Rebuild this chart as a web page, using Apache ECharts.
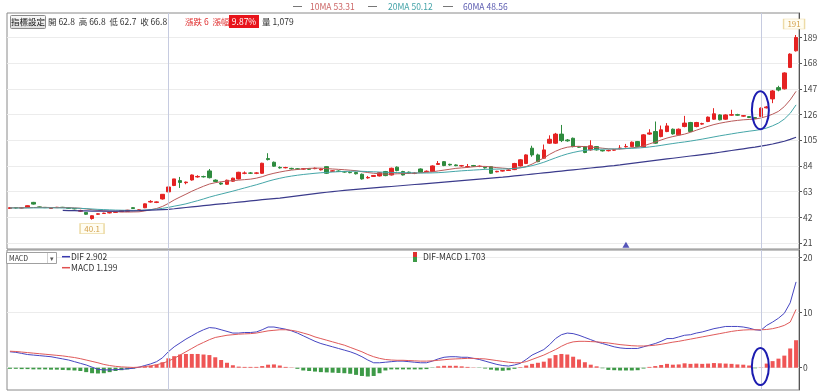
<!DOCTYPE html>
<html><head><meta charset="utf-8">
<script src="https://cdn.jsdelivr.net/npm/echarts@6/dist/echarts.min.js"></script>
<style>html,body{margin:0;padding:0;background:#fff}#c{width:820px;height:392px}</style>
</head><body><div id="c"></div>
<script>
const opens = [49.2,50.0,49.6,50.2,54.2,50.5,50.1,49.3,49.9,50.2,
49.6,49.2,47.0,46.0,41.0,44.5,45.1,45.6,46.0,46.6,
46.9,49.9,47.8,49.8,54.5,54.2,57.0,62.8,68.0,72.0,
70.3,72.5,75.0,75.3,79.9,72.4,70.0,69.0,71.5,73.4,
78.0,78.2,78.0,78.0,90.0,87.0,82.8,82.5,82.0,81.6,
81.4,81.6,81.8,80.8,83.4,79.6,79.8,79.3,78.8,78.6,
77.2,74.2,75.4,75.8,79.4,76.6,83.0,79.4,78.9,77.9,
81.5,79.3,79.4,85.2,87.5,85.3,84.8,84.0,83.3,84.3,
83.6,82.8,83.4,79.2,79.8,80.3,81.0,84.0,86.0,98.5,
93.0,90.3,102.6,102.6,110.0,105.2,106.6,99.7,99.8,97.1,
99.8,96.8,96.4,96.9,98.3,99.6,99.8,103.9,99.3,110.0,
112.1,108.0,112.1,114.0,109.4,116.2,119.5,116.2,118.2,120.3,
122.2,125.7,122.2,125.5,125.9,124.7,124.3,123.5,124.5,131.5,
138.8,148.0,147.0,164.5,178.1];
const closes = [49.9,49.6,49.8,51.5,52.8,50.2,49.9,49.8,50.2,50.0,
49.4,48.9,47.6,44.5,43.3,44.9,45.4,45.9,46.2,47.5,
47.8,49.2,48.1,53.0,55.0,54.6,60.8,66.8,73.4,70.5,
70.8,76.6,75.4,75.1,74.4,71.3,69.2,72.3,74.0,78.8,
78.2,78.1,78.3,86.2,89.2,83.8,82.4,82.7,81.6,81.4,
81.7,81.3,82.1,81.5,78.0,80.0,79.5,79.0,78.5,77.6,
73.4,74.6,76.2,78.5,76.1,82.1,80.2,76.6,78.2,78.1,
78.8,79.7,84.0,86.0,84.3,84.8,84.2,84.2,83.5,83.8,
83.8,82.4,78.0,79.6,80.2,80.7,86.0,89.0,93.0,93.0,
87.5,97.1,105.8,110.0,104.7,104.5,99.8,99.3,95.0,100.4,
97.1,96.3,96.7,97.2,98.6,99.9,103.4,99.8,109.4,111.0,
102.6,113.5,116.7,110.2,114.0,119.0,112.1,119.5,118.6,123.9,
126.6,121.7,125.7,125.9,125.5,125.1,123.6,122.8,131.2,132.2,
145.3,146.0,160.0,175.4,189.0];
const lows = [48.8,49.2,49.3,50.0,52.4,49.8,49.6,49.0,49.6,49.7,
49.0,48.5,46.5,44.0,40.1,44.0,44.7,45.2,45.6,46.3,
46.6,48.9,47.4,49.5,54.0,53.6,56.5,62.7,67.5,66.0,
69.0,72.0,74.4,74.5,73.8,70.6,68.5,68.6,71.0,73.0,
77.2,77.4,77.3,77.6,88.5,83.3,81.8,82.0,81.0,80.8,
80.9,80.7,81.3,80.3,77.5,79.0,79.0,78.5,78.0,77.0,
72.8,73.6,75.0,75.4,75.6,76.2,79.6,76.2,77.6,77.3,
78.4,78.8,79.0,84.8,83.8,84.2,83.8,83.4,82.5,83.2,
83.0,81.8,77.4,78.8,79.4,79.9,80.6,83.5,85.5,91.5,
87.0,89.8,102.0,102.0,103.5,103.8,99.2,98.8,94.4,96.5,
96.6,95.8,95.9,96.4,97.6,99.0,99.3,99.3,98.8,109.4,
102.0,107.4,111.6,109.6,109.0,115.6,111.6,115.6,117.6,119.8,
121.7,121.2,121.7,125.0,125.0,124.2,123.1,122.3,124.0,131.0,
135.3,145.0,146.5,164.0,177.5];
const highs = [50.2,50.3,50.1,51.8,54.6,50.8,50.4,50.1,50.5,50.5,
49.9,49.5,48.2,46.3,43.6,45.3,45.8,46.3,46.6,47.8,
48.1,50.3,48.6,53.3,56.0,55.0,61.0,66.8,73.4,75.0,
71.2,77.0,76.4,76.0,81.5,73.0,70.6,72.8,74.4,79.2,
79.5,79.0,78.9,86.6,94.4,87.6,83.6,83.3,82.5,82.2,
82.3,82.1,82.7,82.0,83.8,80.6,80.4,79.8,79.4,79.2,
77.8,75.8,76.6,79.0,79.9,82.6,83.6,80.0,79.4,78.8,
82.0,80.3,84.5,88.0,88.0,85.8,85.3,84.8,85.6,84.8,
84.4,83.2,83.8,80.0,80.6,81.2,86.5,89.5,93.5,100.5,
94.0,101.5,109.0,111.0,117.5,106.0,107.2,100.3,100.3,105.0,
100.3,97.2,97.3,97.8,101.0,102.0,104.0,104.4,110.0,114.0,
120.3,117.0,119.0,114.6,114.6,124.9,120.0,120.0,119.3,124.4,
131.2,126.2,126.2,129.9,126.6,125.6,124.8,124.0,131.8,133.0,
146.0,149.5,160.5,176.0,191.0];
const ma10 = [49.8,49.8,49.8,49.9,50.0,50.1,50.1,50.0,50.0,50.0,
49.9,49.7,49.4,48.9,48.2,47.7,47.3,46.9,46.6,46.4,
46.3,46.4,46.5,47.2,48.2,49.2,50.9,53.31,56.2,58.6,
60.9,63.3,65.4,67.4,69.2,70.3,71.1,71.6,72.0,72.4,
72.8,73.2,74.0,75.2,76.8,78.0,79.0,79.9,80.6,81.1,
81.6,82.0,82.2,82.2,81.8,81.5,81.2,80.9,80.5,80.1,
79.3,78.6,78.0,77.6,77.3,77.3,77.6,77.7,77.9,78.1,
78.4,78.8,79.2,79.9,80.6,81.3,82.0,82.4,82.8,83.3,
83.6,83.6,83.2,82.6,82.2,81.8,82.0,82.6,83.5,85.5,
88.0,90.5,93.5,96.0,98.0,99.3,99.9,100.0,99.8,99.4,
99.0,98.5,98.0,97.7,97.8,98.2,98.8,99.3,100.3,102.0,
103.5,105.2,106.8,108.0,109.0,110.0,111.5,113.2,114.8,116.4,
117.8,118.9,119.8,120.6,121.2,121.7,122.0,122.3,123.2,124.5,
126.3,128.6,132.5,138.0,145.0];
const ma20 = [49.6,49.6,49.6,49.6,49.7,49.7,49.7,49.7,49.7,49.6,
49.6,49.5,49.3,49.1,48.8,48.5,48.3,48.1,47.9,47.8,
47.7,47.7,47.7,47.9,48.3,48.7,49.3,50.12,51.1,52.0,
53.0,54.3,55.6,57.0,58.5,59.8,61.0,62.2,63.4,64.7,
66.0,67.3,68.6,70.0,71.5,72.8,73.9,74.9,75.7,76.4,
77.0,77.5,78.0,78.4,78.7,79.0,79.3,79.5,79.6,79.7,
79.6,79.4,79.2,79.0,78.8,78.7,78.6,78.5,78.4,78.3,
78.2,78.2,78.3,78.5,78.8,79.2,79.6,80.0,80.3,80.6,
80.9,81.2,81.3,81.4,81.5,81.6,81.9,82.4,83.2,84.2,
85.5,87.0,88.8,90.6,92.3,93.8,95.0,96.0,96.7,97.2,
97.5,97.7,97.8,97.9,98.0,98.2,98.4,98.6,99.0,99.5,
100.1,100.8,101.6,102.3,103.0,103.6,104.3,105.1,105.9,106.8,
107.7,108.6,109.4,110.2,111.0,111.7,112.4,113.0,113.8,115.0,
116.8,119.0,122.3,127.0,133.9];
const ma60 = [null,null,null,null,null,null,null,null,null,47.6,
47.5,47.4,47.3,47.2,47.1,47.0,47.0,47.0,47.0,47.1,
47.2,47.3,47.4,47.6,47.8,48.0,48.3,48.56,49.0,49.5,
50.0,50.5,51.0,51.5,52.0,52.5,53.0,53.4,53.9,54.4,
54.9,55.4,55.9,56.4,56.9,57.3,57.7,58.3,58.9,59.5,
60.1,60.7,61.3,61.9,62.5,63.0,63.5,64.0,64.4,64.8,
65.2,65.6,66.0,66.4,66.8,67.2,67.6,68.0,68.4,68.8,
69.2,69.6,70.0,70.4,70.8,71.2,71.6,72.0,72.4,72.8,
73.2,73.6,74.0,74.4,74.8,75.3,75.8,76.3,76.8,77.3,
77.8,78.3,78.8,79.3,79.8,80.3,80.8,81.3,81.8,82.3,
82.8,83.3,83.8,84.3,84.9,85.5,86.1,86.7,87.3,87.9,
88.5,89.1,89.7,90.3,90.9,91.5,92.1,92.7,93.3,93.9,
94.5,95.2,95.9,96.6,97.3,98.0,98.7,99.4,100.2,101.0,
101.9,103.0,104.2,105.7,107.4];
const dif = [2.9,2.8,2.6,2.4,2.3,2.2,2.1,2.0,1.8,1.6,
1.4,1.1,0.8,0.5,0.1,-0.3,-0.4,-0.4,-0.35,-0.3,
-0.2,-0.1,0.1,0.4,0.7,1.1,1.8,2.902,3.8,4.5,
5.2,5.8,6.4,6.9,7.3,7.2,6.9,6.6,6.3,6.3,
6.4,6.4,6.5,6.9,7.4,7.4,7.2,7.0,6.7,6.3,
5.8,5.3,4.8,4.4,4.1,3.8,3.5,3.2,2.9,2.5,
2.0,1.4,0.9,0.9,1.0,1.1,1.2,1.2,1.1,1.0,
0.9,0.9,1.2,1.6,1.9,2.0,2.0,1.9,1.9,1.7,
1.5,1.2,0.9,0.6,0.4,0.3,0.5,0.8,1.5,2.3,
2.8,3.3,4.2,5.3,6.0,6.3,6.2,5.9,5.5,5.1,
4.7,4.4,4.1,3.8,3.6,3.5,3.5,3.5,3.8,4.1,
4.4,4.8,5.3,5.3,5.6,5.9,6.0,6.3,6.5,6.8,
7.1,7.3,7.5,7.5,7.5,7.4,7.2,6.9,6.8,7.7,
8.3,9.0,9.9,11.8,15.6];
const dea = [3.0,2.95,2.85,2.75,2.65,2.55,2.45,2.35,2.25,2.15,
2.0,1.85,1.65,1.4,1.15,0.9,0.6,0.4,0.25,0.15,
0.1,0.05,0.1,0.2,0.35,0.55,0.8,1.199,1.7,2.3,
2.9,3.5,4.1,4.6,5.1,5.5,5.7,5.9,6.0,6.1,
6.15,6.2,6.3,6.5,6.7,6.8,6.9,6.9,6.8,6.6,
6.3,6.0,5.6,5.3,5.0,4.7,4.4,4.1,3.7,3.3,
2.9,2.4,2.0,1.7,1.5,1.4,1.35,1.35,1.3,1.25,
1.2,1.2,1.25,1.35,1.45,1.55,1.6,1.65,1.7,1.7,
1.65,1.6,1.45,1.3,1.15,1.0,0.9,0.9,1.1,1.5,
1.9,2.3,2.8,3.3,3.9,4.4,4.7,4.8,4.8,4.75,
4.7,4.6,4.5,4.35,4.2,4.1,4.0,3.95,3.95,4.0,
4.1,4.25,4.45,4.65,4.8,5.0,5.2,5.4,5.6,5.8,
6.0,6.2,6.4,6.6,6.75,6.85,6.9,6.9,6.9,6.95,
7.1,7.35,7.7,8.3,10.6];
const osc = [-0.2,-0.2,-0.25,-0.25,-0.3,-0.3,-0.3,-0.35,-0.35,-0.4,
-0.45,-0.5,-0.6,-0.8,-1.0,-1.05,-1.0,-0.8,-0.6,-0.45,
-0.3,-0.15,0.05,0.2,0.35,0.55,1.0,1.703,2.1,2.4,
2.5,2.5,2.5,2.4,2.3,1.9,1.4,0.9,0.45,0.2,
0.15,0.15,0.15,0.3,0.55,0.6,0.4,0.15,0.05,-0.2,
-0.5,-0.6,-0.7,-0.8,-0.85,-0.9,-0.95,-1.0,-1.1,-1.3,
-1.5,-1.6,-1.5,-1.0,-0.5,-0.3,-0.3,-0.3,-0.3,-0.3,
-0.3,-0.25,-0.05,0.25,0.35,0.35,0.35,0.25,0.15,0.05,
-0.05,-0.15,-0.35,-0.5,-0.55,-0.45,-0.2,0.1,0.4,0.7,
0.9,1.1,1.7,2.3,2.5,2.4,2.0,1.5,1.0,0.55,
0.25,-0.1,-0.4,-0.45,-0.5,-0.5,-0.5,-0.45,-0.15,0.15,
0.3,0.5,0.7,0.55,0.6,0.8,0.7,0.75,0.7,0.75,
0.85,0.8,0.75,0.7,0.6,0.55,0.4,-0.1,0.05,0.75,
1.2,1.65,2.2,3.5,5.0];
const priceTicks = [21,42,63,84,105,126,147,168,189];
const macdTicks = [0,10,20];
const categories = opens.map((_, i) => 'D' + (i + 1));
const hoverIdx = 27;      // crosshair day shown in header
const markDayIdx = 128;   // second vertical marker
const eventIdx = 105;     // blue triangle event
const eventLevel = 19.6;
const volumeText = '1,079';

const F = '"Noto Sans CJK TC","Noto Sans",sans-serif';
const chart = echarts.init(document.getElementById('c'), null, {renderer: 'canvas', width: 820, height: 392});

const candleData = opens.map((o, i) => [o, closes[i], lows[i], highs[i]]);
let maxI = 0, minI = 0;
highs.forEach((h, i) => { if (h > highs[maxI]) maxI = i; });
lows.forEach((l, i) => { if (l < lows[minI]) minI = i; });

const vline = (idx) => ({
  silent: true, symbol: ['none', 'none'], animation: false,
  label: {show: false},
  lineStyle: {type: 'solid', color: '#c6cbe0', width: 1},
  data: idx.map(k => ({xAxis: categories[k]}))
});

function txt(text, x, y, color, size, align) {
  return {type: 'text', silent: true, z: 100, style: {text, x, y, fill: color, font: size + 'px ' + F, textAlign: align || 'left', textVerticalAlign: 'middle'}};
}
function seg(x1, y1, x2, y2, color, w) {
  return {type: 'line', silent: true, z: 100, shape: {x1, y1, x2, y2}, style: {stroke: color, lineWidth: w || 1}};
}
const chg = closes[hoverIdx] - closes[hoverIdx - 1];
const pct = chg / closes[hoverIdx - 1] * 100;

const headerGraphics = [
  seg(293, 6.5, 302, 6.5, '#777'), txt('10MA ' + ma10[hoverIdx].toFixed(2), 310, 6.5, '#cc6666', 8.5),
  seg(368, 6.5, 377, 6.5, '#777'), txt('20MA ' + ma20[hoverIdx].toFixed(2), 388, 6.5, '#44a3a8', 8.5),
  seg(443, 6.5, 453, 6.5, '#777'), txt('60MA ' + ma60[hoverIdx].toFixed(2), 463, 6.5, '#5b5bb0', 8.5),
  {type: 'rect', silent: true, z: 100, shape: {x: 10.5, y: 15.5, width: 35, height: 13, r: 1},
   style: {fill: new echarts.graphic.LinearGradient(0, 0, 0, 1, [{offset: 0, color: '#fbfbfb'}, {offset: 1, color: '#dcdcdc'}]), stroke: '#8a8a8a', lineWidth: 1}},
  txt('指標設定', 28, 22, '#111', 8.5, 'center'),
  txt('開 ' + opens[hoverIdx].toFixed(1) + '  高 ' + highs[hoverIdx].toFixed(1) + '  低 ' + lows[hoverIdx].toFixed(1) + '  收 ' + closes[hoverIdx].toFixed(1), 48, 22, '#333', 8.5),
  txt('漲跌 ' + chg.toFixed(0) + '  漲幅', 185, 22, '#e03030', 8.5),
  {type: 'rect', silent: true, z: 100, shape: {x: 229, y: 15, width: 30, height: 13}, style: {fill: '#e8141b'}},
  txt(pct.toFixed(2) + '%', 244, 21.5, '#ffffff', 8.5, 'center'),
  txt('量 ' + volumeText, 262, 22, '#333', 8.5),
  {type: 'rect', silent: true, z: 100, shape: {x: 6.5, y: 252.5, width: 50, height: 11}, style: {fill: '#fff', stroke: '#a0a0a0', lineWidth: 1}},
  seg(47.5, 253, 47.5, 263, '#d0d0d0'),
  txt('MACD', 9, 258, '#333', 7),
  txt('▾', 52, 258, '#555', 7, 'center'),
  seg(62, 256.7, 70, 256.7, '#3a3ab0', 1.5), txt('DIF ' + dif[hoverIdx].toFixed(3), 71, 256.7, '#333', 8.5),
  seg(62, 267.7, 70, 267.7, '#e05050', 1.5), txt('MACD ' + dea[hoverIdx].toFixed(3), 71, 267.7, '#333', 8.5),
  {type: 'rect', silent: true, z: 100, shape: {x: 413, y: 252, width: 4, height: 5}, style: {fill: '#e03030'}},
  {type: 'rect', silent: true, z: 100, shape: {x: 413, y: 257, width: 4, height: 5}, style: {fill: '#3d9a47'}},
  txt('DIF-MACD ' + osc[hoverIdx].toFixed(3), 423, 256.7, '#333', 8.5)
];

const yCommon = (ticks, min, max, gi) => ({
  gridIndex: gi, type: 'value', position: 'right', min, max,
  axisLine: {show: true, lineStyle: {color: '#555'}},
  axisTick: {show: true, length: 3, customValues: ticks, lineStyle: {color: '#555'}},
  axisLabel: {customValues: ticks, fontSize: 8.5, color: '#444', margin: 4, fontFamily: F},
  splitLine: {show: true, lineStyle: {color: '#ececec'}}
});
const xCommon = (gi) => ({
  gridIndex: gi, type: 'category', data: categories, boundaryGap: true,
  axisLine: {show: false}, axisTick: {show: false}, axisLabel: {show: false}, splitLine: {show: false}
});

const option = {
  animation: false,
  backgroundColor: '#ffffff',
  grid: [
    {left: 7, right: 21, top: 13, height: 236, show: true, borderColor: '#8a8a8a', borderWidth: 1, containLabel: false, outerBoundsMode: 'none'},
    {left: 7, right: 21, top: 250, height: 140, show: true, borderColor: '#8a8a8a', borderWidth: 1, containLabel: false, outerBoundsMode: 'none'}
  ],
  xAxis: [xCommon(0), xCommon(1)],
  yAxis: [yCommon(priceTicks, 16.1, 209, 0), yCommon(macdTicks, -4.05, 21.4, 1)],
  series: [
    {type: 'candlestick', xAxisIndex: 0, yAxisIndex: 0, data: candleData, barWidth: 4,
     itemStyle: {color: '#e52222', color0: '#2e8b3e', borderColor: '#e52222', borderColor0: '#2e8b3e', borderWidth: 1},
     markLine: vline([hoverIdx, markDayIdx]),
     markPoint: {
       symbol: 'rect', silent: true, animation: false,
       itemStyle: {color: '#fffdf2', borderColor: '#eddba6', borderWidth: 1},
       label: {show: true, position: 'inside', color: '#d4a24e', fontSize: 8, fontFamily: F, formatter: p => String(p.value)},
       data: [
         {coord: [categories[maxI], highs[maxI]], value: highs[maxI], symbolSize: [21, 10], symbolOffset: [-2, -11]},
         {coord: [categories[minI], lows[minI]], value: lows[minI], symbolSize: [24, 10], symbolOffset: [0, 9]}
       ]
     }},
    {type: 'line', name: '10MA', xAxisIndex: 0, yAxisIndex: 0, data: ma10, symbol: 'none', lineStyle: {color: '#b95a5a', width: 1}, z: 3},
    {type: 'line', name: '20MA', xAxisIndex: 0, yAxisIndex: 0, data: ma20, symbol: 'none', lineStyle: {color: '#45a6a8', width: 1}, z: 3},
    {type: 'line', name: '60MA', xAxisIndex: 0, yAxisIndex: 0, data: ma60, symbol: 'none', lineStyle: {color: '#3b3b8c', width: 1.2}, z: 3},
    {type: 'scatter', xAxisIndex: 0, yAxisIndex: 0, data: [[categories[eventIdx], eventLevel]], symbol: 'triangle', symbolSize: [7, 6], itemStyle: {color: '#2a2aa8'}, z: 5},
    {type: 'bar', xAxisIndex: 1, yAxisIndex: 1, data: osc, barWidth: 4,
     itemStyle: {color: p => p.value >= 0 ? '#ef5555' : '#3d9a47'},
     markLine: vline([hoverIdx, markDayIdx])},
    {type: 'line', name: 'DIF', xAxisIndex: 1, yAxisIndex: 1, data: dif, symbol: 'none', lineStyle: {color: '#4646c2', width: 1}, z: 4},
    {type: 'line', name: 'MACD', xAxisIndex: 1, yAxisIndex: 1, data: dea, symbol: 'none', lineStyle: {color: '#e05a5a', width: 1}, z: 4}
  ],
  graphic: headerGraphics
};
chart.setOption(option);

// hand-drawn style annotation ellipses around the breakout day
const p1 = chart.convertToPixel({xAxisIndex: 0, yAxisIndex: 0}, [categories[markDayIdx], 129.5]);
const p2 = chart.convertToPixel({xAxisIndex: 1, yAxisIndex: 1}, [categories[markDayIdx], 0.2]);
chart.setOption({graphic: headerGraphics.concat([
  {type: 'ellipse', silent: true, z: 110, shape: {cx: p1[0] - 0.5, cy: p1[1], rx: 8.5, ry: 19}, style: {fill: 'none', stroke: '#1c1cb0', lineWidth: 2}},
  {type: 'ellipse', silent: true, z: 110, shape: {cx: p2[0] - 0.5, cy: p2[1], rx: 8.5, ry: 18.5}, style: {fill: 'none', stroke: '#1c1cb0', lineWidth: 2}}
])});
</script>
</body></html>
